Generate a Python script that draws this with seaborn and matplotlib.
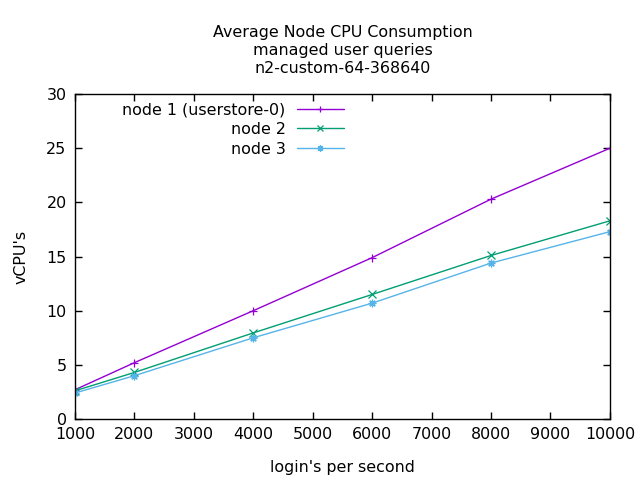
import matplotlib
matplotlib.use("Agg")
import matplotlib.pyplot as plt
import pandas as pd
import seaborn as sns

logins = [1000, 2000, 4000, 6000, 8000, 10000]
node1 = [2.7, 5.2, 10.0, 14.9, 20.3, 25.0]
node2 = [2.6, 4.3, 7.95, 11.5, 15.1, 18.3]
node3 = [2.4, 4.0, 7.5, 10.7, 14.4, 17.3]
labels = ["node 1 (userstore-0)", "node 2", "node 3"]
colors = ["#9400d3", "#009e73", "#56b4e9"]
markers = ["+", "x", (8, 2, 0)]

rows = []
for name, vals in zip(labels, [node1, node2, node3]):
    for x, y in zip(logins, vals):
        rows.append({"logins": x, "vcpu": y, "node": name})
df = pd.DataFrame(rows)

sns.set_theme(style="ticks")
plt.rcParams["font.family"] = ["DejaVu Sans"]
plt.rcParams["font.size"] = 11.4
plt.rcParams["text.color"] = "black"

fig = plt.figure(figsize=(6.4, 4.8), dpi=100)
ax = fig.add_axes([0.117, 0.127, 0.836, 0.677])

sns.lineplot(
    data=df, x="logins", y="vcpu", hue="node", style="node",
    palette=dict(zip(labels, colors)), markers=dict(zip(labels, markers)),
    dashes=False, linewidth=1, markersize=5.5, markeredgewidth=0.9,
    ax=ax, legend=True,
)
for line in ax.lines:
    line.set_markeredgecolor(line.get_color())

ax.set_xlim(1000, 10000)
ax.set_ylim(0, 30)
ax.set_xticks(range(1000, 10001, 1000))
ax.set_yticks(range(0, 31, 5))
ax.tick_params(direction="in", top=True, right=True, length=5, width=1,
               labelsize=11.4, colors="black", pad=6)
for s in ax.spines.values():
    s.set_linewidth(1)
    s.set_color("black")
ax.set_xlabel("login's per second", fontsize=11.4, labelpad=13, color="black")
ax.set_ylabel("vCPU's", fontsize=11.4, labelpad=13, color="black")
ax.set_title("Average Node CPU Consumption\nmanaged user queries\nn2-custom-64-368640",
             fontsize=11.4, linespacing=1.25, pad=15, color="black")

leg = ax.legend(loc="upper left", frameon=False, markerfirst=False, fontsize=11.4,
                handlelength=3.0, handletextpad=0.7, labelspacing=0.3,
                borderaxespad=0.3, bbox_to_anchor=(0.068, 1.009))
for line in leg.get_lines():
    line.set_markeredgecolor(line.get_color())
    line.set_markersize(4.5)
for t in leg.get_texts():
    t.set_color("black")

fig.savefig("out.png", dpi=100)
plt.close(fig)
